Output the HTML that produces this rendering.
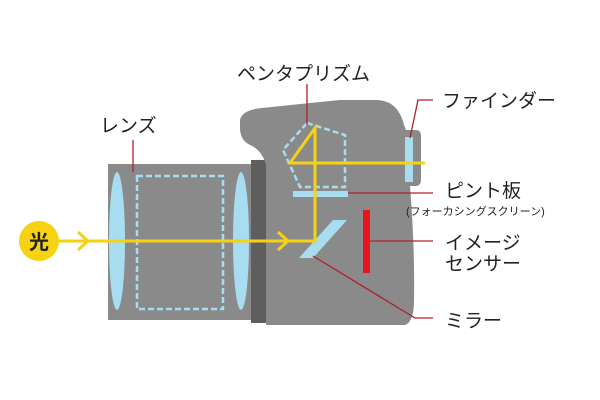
<!DOCTYPE html>
<html><head><meta charset="utf-8"><style>
html,body{margin:0;padding:0;background:#fff;width:600px;height:400px;overflow:hidden}
text{font-family:"Liberation Sans","Noto Sans CJK JP",sans-serif;fill:#222}
</style></head><body>
<svg width="600" height="400" viewBox="0 0 600 400" xmlns="http://www.w3.org/2000/svg">
<rect x="108" y="164" width="146" height="156" fill="#8a8a8a"/>
<rect x="251" y="160" width="15" height="163" fill="#5e5e5e"/>
<path d="M266,325 L266,165 Q262,150 250,145 Q240,140 240,128 L240,120 Q242,110 262,108 Q300,104 340,100 L376,100 Q398,100 404,125 L406,130 L416,130 Q421,130 421,136 L421,180 Q421,186 415,186 L410,186 Q415,250 414,300 Q414,322 405,325 Z" fill="#8a8a8a"/>
<ellipse cx="117" cy="241" rx="8" ry="69" fill="#a8dcf0"/>
<ellipse cx="241" cy="241" rx="8" ry="69" fill="#a8dcf0"/>
<rect x="137" y="176" width="86" height="133" fill="none" stroke="#a8dcf0" stroke-width="2.5" stroke-dasharray="6,3"/>
<polygon points="307,123 345,135 345,187 300,187 283,150" fill="none" stroke="#a8dcf0" stroke-width="2.5" stroke-dasharray="6,3"/>
<rect x="293" y="191" width="55" height="6" fill="#a8dcf0"/>
<polygon points="299,258 313,258 347,220 333,220" fill="#a8dcf0"/>
<rect x="363" y="210" width="7" height="63" fill="#e8141e"/>
<rect x="405" y="137" width="8" height="45" fill="#a8dcf0"/>
<g stroke="#f5d214" stroke-width="3" fill="none">
<polyline points="40,241 315,241 315,128 290,163 425,163"/>
<polyline points="78,232 88,241 78,250"/>
<polyline points="278,232 288,241 278,250"/>
</g>
<circle cx="39" cy="241" r="20" fill="#f5d214"/>
<text x="39" y="249" font-size="20" text-anchor="middle" font-weight="bold" style="fill:#222">光</text>
<g stroke="#b0202a" stroke-width="1.3" fill="none">
<line x1="307" y1="84" x2="307" y2="125"/>
<line x1="133" y1="140" x2="133" y2="172"/>
<polyline points="410,138 418,100 433,100"/>
<line x1="348" y1="193" x2="433" y2="193"/>
<line x1="370" y1="241" x2="433" y2="241"/>
<polyline points="313,256 415,318 433,318"/>
</g>
<text x="237" y="80" font-size="19">ペンタプリズム</text>
<text x="100" y="132" font-size="19">レンズ</text>
<text x="442" y="107" font-size="19">ファインダー</text>
<text x="445" y="197" font-size="19">ピント板</text>
<text x="406" y="215" font-size="11">(フォーカシングスクリーン)</text>
<text x="445" y="249" font-size="19">イメージ</text>
<text x="445" y="270" font-size="19">センサー</text>
<text x="445" y="327" font-size="19">ミラー</text>
</svg>
</body></html>
